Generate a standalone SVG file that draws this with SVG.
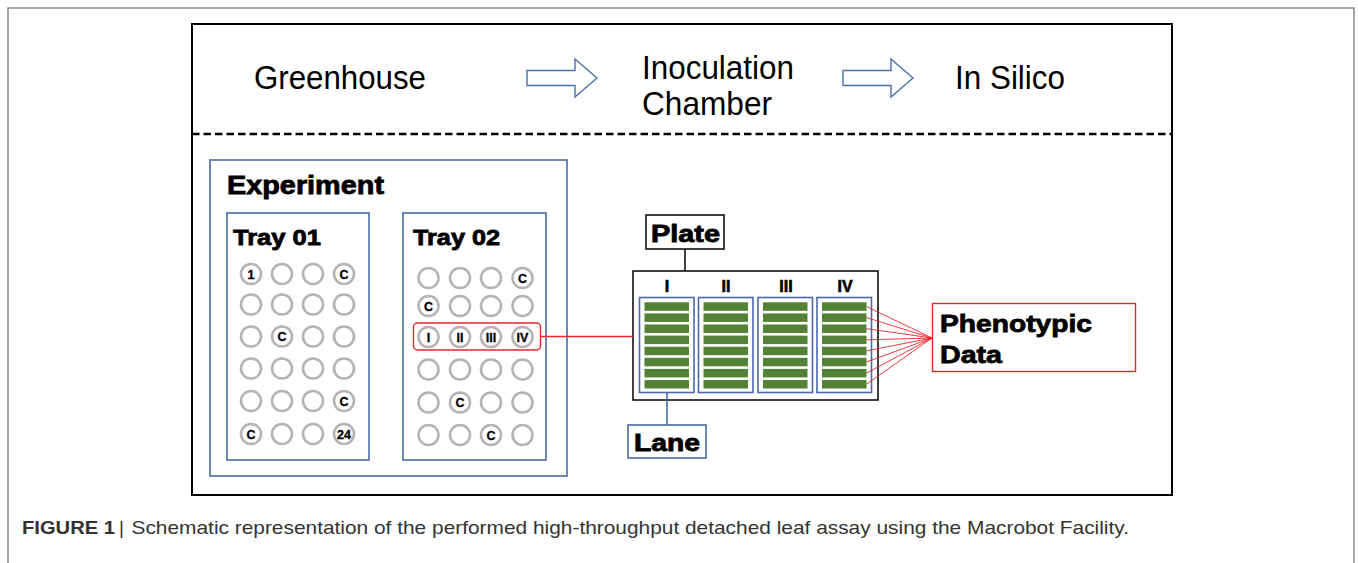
<svg xmlns="http://www.w3.org/2000/svg" width="1358" height="563" viewBox="0 0 1358 563">
  <style>
    .title { font-family: "Liberation Sans", Arial, sans-serif; font-size: 34px; fill: #000; }
    .heavy { font-family: "Liberation Sans", Arial, sans-serif; font-weight: bold; fill: #000; stroke: #000; stroke-width: 0.8px; }
    .well { fill: #fff; stroke: #b4b4b4; stroke-width: 2.6; }
    .wl { font-family: "Liberation Sans", Arial, sans-serif; font-weight: bold; font-size: 12.5px; fill: #000; stroke: #000; stroke-width: 0.3px; text-anchor: middle; }
    .blue { fill: none; stroke: #4a69a8; stroke-width: 1.6; }
    .bar { fill: #538135; }
    .roman { font-family: "Liberation Sans", Arial, sans-serif; font-weight: bold; font-size: 16px; fill: #000; stroke: #000; stroke-width: 0.6px; text-anchor: middle; }
    .red { fill: none; stroke: #e8262b; stroke-width: 1.4; }
    .fan { stroke: #e8262b; stroke-width: 0.9; }
    .cap { font-family: "Liberation Sans", Arial, sans-serif; font-size: 19px; fill: #333; }
    .arrow { fill: #fff; stroke: #4a6fa8; stroke-width: 1.4; }
  </style>

  <!-- page frame -->
  <path d="M8,563 V8 H1354 V563" fill="none" stroke="#8a8a8a" stroke-width="1.5"/>

  <!-- main panel -->
  <rect x="192" y="24" width="980" height="471" fill="#fff" stroke="#000" stroke-width="2"/>
  <line x1="192" y1="134" x2="1172" y2="134" stroke="#000" stroke-width="2.6" stroke-dasharray="7.5,4"/>

  <!-- workflow stages -->
  <g id="stage-greenhouse">
    <text class="title" x="254" y="89" textLength="172" lengthAdjust="spacingAndGlyphs">Greenhouse</text>
  </g>
  <g id="stage-inoculation">
    <text class="title" x="642" y="79" textLength="152" lengthAdjust="spacingAndGlyphs">Inoculation</text>
    <text class="title" x="642" y="115" textLength="130" lengthAdjust="spacingAndGlyphs">Chamber</text>
  </g>
  <g id="stage-insilico">
    <text class="title" x="955" y="89" textLength="110" lengthAdjust="spacingAndGlyphs">In Silico</text>
  </g>

  <!-- experiment with two trays -->
  <g id="experiment">
    <rect x="210" y="160" width="357" height="316" class="blue"/>
    <text class="heavy" x="227" y="193.5" font-size="25" textLength="157" lengthAdjust="spacingAndGlyphs">Experiment</text>
  </g>

  <g id="tray-01">
    <rect x="227" y="213" width="142" height="247" class="blue"/>
    <text class="heavy" x="233" y="244.5" font-size="22" textLength="88" lengthAdjust="spacingAndGlyphs">Tray 01</text>
    <g>
      <circle class="well" cx="251" cy="274" r="10"/><circle class="well" cx="282" cy="274" r="10"/><circle class="well" cx="313" cy="274" r="10"/><circle class="well" cx="344" cy="274" r="10"/>
      <circle class="well" cx="251" cy="304.5" r="10"/><circle class="well" cx="282" cy="304.5" r="10"/><circle class="well" cx="313" cy="304.5" r="10"/><circle class="well" cx="344" cy="304.5" r="10"/>
      <circle class="well" cx="251" cy="336.5" r="10"/><circle class="well" cx="282" cy="336.5" r="10"/><circle class="well" cx="313" cy="336.5" r="10"/><circle class="well" cx="344" cy="336.5" r="10"/>
      <circle class="well" cx="251" cy="368.5" r="10"/><circle class="well" cx="282" cy="368.5" r="10"/><circle class="well" cx="313" cy="368.5" r="10"/><circle class="well" cx="344" cy="368.5" r="10"/>
      <circle class="well" cx="251" cy="401" r="10"/><circle class="well" cx="282" cy="401" r="10"/><circle class="well" cx="313" cy="401" r="10"/><circle class="well" cx="344" cy="401" r="10"/>
      <circle class="well" cx="251" cy="434" r="10"/><circle class="well" cx="282" cy="434" r="10"/><circle class="well" cx="313" cy="434" r="10"/><circle class="well" cx="344" cy="434" r="10"/>
    </g>
    <text class="wl" x="251" y="278.5">1</text>
    <text class="wl" x="344" y="278.5">C</text>
    <text class="wl" x="282" y="341">C</text>
    <text class="wl" x="344" y="405.5">C</text>
    <text class="wl" x="251" y="438.5">C</text>
    <text class="wl" x="344" y="438.5">24</text>
  </g>

  <g id="tray-02">
    <rect x="403" y="213" width="143" height="247" class="blue"/>
    <text class="heavy" x="413" y="244.5" font-size="22" textLength="87" lengthAdjust="spacingAndGlyphs">Tray 02</text>
    <g>
      <circle class="well" cx="428.5" cy="278" r="10"/><circle class="well" cx="460" cy="278" r="10"/><circle class="well" cx="491" cy="278" r="10"/><circle class="well" cx="522.5" cy="278" r="10"/>
      <circle class="well" cx="428.5" cy="306" r="10"/><circle class="well" cx="460" cy="306" r="10"/><circle class="well" cx="491" cy="306" r="10"/><circle class="well" cx="522.5" cy="306" r="10"/>
      <circle class="well" cx="428.5" cy="337" r="10"/><circle class="well" cx="460" cy="337" r="10"/><circle class="well" cx="491" cy="337" r="10"/><circle class="well" cx="522.5" cy="337" r="10"/>
      <circle class="well" cx="428.5" cy="369.5" r="10"/><circle class="well" cx="460" cy="369.5" r="10"/><circle class="well" cx="491" cy="369.5" r="10"/><circle class="well" cx="522.5" cy="369.5" r="10"/>
      <circle class="well" cx="428.5" cy="402.5" r="10"/><circle class="well" cx="460" cy="402.5" r="10"/><circle class="well" cx="491" cy="402.5" r="10"/><circle class="well" cx="522.5" cy="402.5" r="10"/>
      <circle class="well" cx="428.5" cy="435" r="10"/><circle class="well" cx="460" cy="435" r="10"/><circle class="well" cx="491" cy="435" r="10"/><circle class="well" cx="522.5" cy="435" r="10"/>
    </g>
    <text class="wl" x="522.5" y="282.5">C</text>
    <text class="wl" x="428.5" y="310.5">C</text>
    <text class="wl" x="428.5" y="341.5">I</text>
    <text class="wl" x="460" y="341.5">II</text>
    <text class="wl" x="491" y="341.5">III</text>
    <text class="wl" x="522.5" y="341.5">IV</text>
    <text class="wl" x="460" y="407">C</text>
    <text class="wl" x="491" y="439.5">C</text>
    <rect x="413.5" y="323" width="127" height="27" rx="4" class="red"/>
  </g>

  <!-- plate with four lanes of leaf strips -->
  <g id="plate-label">
    <rect x="646" y="215" width="78" height="34" fill="#fff" stroke="#000" stroke-width="1.5"/>
    <text class="heavy" x="651" y="241.5" font-size="23" textLength="69" lengthAdjust="spacingAndGlyphs">Plate</text>
  </g>

  <g id="plate">
    <rect x="633" y="271" width="245" height="129" fill="#fff" stroke="#000" stroke-width="1.5"/>
    <text class="roman" x="667" y="292">I</text>
    <text class="roman" x="726" y="292">II</text>
    <text class="roman" x="786" y="292">III</text>
    <text class="roman" x="845" y="292">IV</text>
    <g id="lane-I">
      <rect x="639.5" y="297.5" width="54.5" height="95" class="blue"/>
      <rect class="bar" x="644.5" y="302.3" width="44.5" height="8.5"/><rect class="bar" x="644.5" y="313.4" width="44.5" height="8.5"/><rect class="bar" x="644.5" y="324.5" width="44.5" height="8.5"/><rect class="bar" x="644.5" y="335.6" width="44.5" height="8.5"/>
      <rect class="bar" x="644.5" y="346.7" width="44.5" height="8.5"/><rect class="bar" x="644.5" y="357.8" width="44.5" height="8.5"/><rect class="bar" x="644.5" y="368.9" width="44.5" height="8.5"/><rect class="bar" x="644.5" y="380" width="44.5" height="8.5"/>
    </g>
    <g id="lane-II">
      <rect x="698.5" y="297.5" width="54.5" height="95" class="blue"/>
      <rect class="bar" x="703.5" y="302.3" width="44.5" height="8.5"/><rect class="bar" x="703.5" y="313.4" width="44.5" height="8.5"/><rect class="bar" x="703.5" y="324.5" width="44.5" height="8.5"/><rect class="bar" x="703.5" y="335.6" width="44.5" height="8.5"/>
      <rect class="bar" x="703.5" y="346.7" width="44.5" height="8.5"/><rect class="bar" x="703.5" y="357.8" width="44.5" height="8.5"/><rect class="bar" x="703.5" y="368.9" width="44.5" height="8.5"/><rect class="bar" x="703.5" y="380" width="44.5" height="8.5"/>
    </g>
    <g id="lane-III">
      <rect x="758" y="297.5" width="54.5" height="95" class="blue"/>
      <rect class="bar" x="763" y="302.3" width="44.5" height="8.5"/><rect class="bar" x="763" y="313.4" width="44.5" height="8.5"/><rect class="bar" x="763" y="324.5" width="44.5" height="8.5"/><rect class="bar" x="763" y="335.6" width="44.5" height="8.5"/>
      <rect class="bar" x="763" y="346.7" width="44.5" height="8.5"/><rect class="bar" x="763" y="357.8" width="44.5" height="8.5"/><rect class="bar" x="763" y="368.9" width="44.5" height="8.5"/><rect class="bar" x="763" y="380" width="44.5" height="8.5"/>
    </g>
    <g id="lane-IV">
      <rect x="817" y="297.5" width="54.5" height="95" class="blue"/>
      <rect class="bar" x="822" y="302.3" width="44.5" height="8.5"/><rect class="bar" x="822" y="313.4" width="44.5" height="8.5"/><rect class="bar" x="822" y="324.5" width="44.5" height="8.5"/><rect class="bar" x="822" y="335.6" width="44.5" height="8.5"/>
      <rect class="bar" x="822" y="346.7" width="44.5" height="8.5"/><rect class="bar" x="822" y="357.8" width="44.5" height="8.5"/><rect class="bar" x="822" y="368.9" width="44.5" height="8.5"/><rect class="bar" x="822" y="380" width="44.5" height="8.5"/>
    </g>
  </g>

  <g id="lane-label">
    <rect x="628" y="425" width="78" height="33" class="blue" style="fill:#fff"/>
    <text class="heavy" x="634" y="451" font-size="23" textLength="66" lengthAdjust="spacingAndGlyphs">Lane</text>
  </g>

  <g id="phenotypic-data">
    <rect x="932.5" y="303.5" width="203" height="68" class="red" style="fill:#fff"/>
    <text class="heavy" x="940" y="332" font-size="24" textLength="152" lengthAdjust="spacingAndGlyphs">Phenotypic</text>
    <text class="heavy" x="940" y="362.5" font-size="24" textLength="62" lengthAdjust="spacingAndGlyphs">Data</text>
  </g>

  <!-- connectors -->
  <g id="connectors">
    <path class="arrow" d="M527,70.5 H575 V59 L597,78 L575,97 V85.5 H527 Z"/>
    <path class="arrow" d="M843,70.5 H891 V59 L913,78 L891,97 V85.5 H843 Z"/>
    <line x1="685" y1="249" x2="685" y2="271" stroke="#000" stroke-width="1.5"/>
    <line x1="667" y1="392.5" x2="667" y2="425" stroke="#4a69a8" stroke-width="1.6"/>
    <line x1="540.5" y1="336.5" x2="633" y2="336.5" stroke="#e8262b" stroke-width="1.4"/>
    <line class="fan" x1="866.5" y1="306.5" x2="932" y2="338"/>
    <line class="fan" x1="866.5" y1="317.6" x2="932" y2="338"/>
    <line class="fan" x1="866.5" y1="328.7" x2="932" y2="338"/>
    <line class="fan" x1="866.5" y1="339.8" x2="932" y2="338"/>
    <line class="fan" x1="866.5" y1="350.9" x2="932" y2="338"/>
    <line class="fan" x1="866.5" y1="362" x2="932" y2="338"/>
    <line class="fan" x1="866.5" y1="373.1" x2="932" y2="338"/>
    <line class="fan" x1="866.5" y1="384.2" x2="932" y2="338"/>
  </g>

  <!-- caption -->
  <text class="cap" x="22" y="534" font-weight="bold" textLength="93" lengthAdjust="spacingAndGlyphs">FIGURE 1</text>
  <text class="cap" x="119" y="534">|</text>
  <text class="cap" x="131.5" y="534" textLength="997.5" lengthAdjust="spacingAndGlyphs">Schematic representation of the performed high-throughput detached leaf assay using the Macrobot Facility.</text>
</svg>
